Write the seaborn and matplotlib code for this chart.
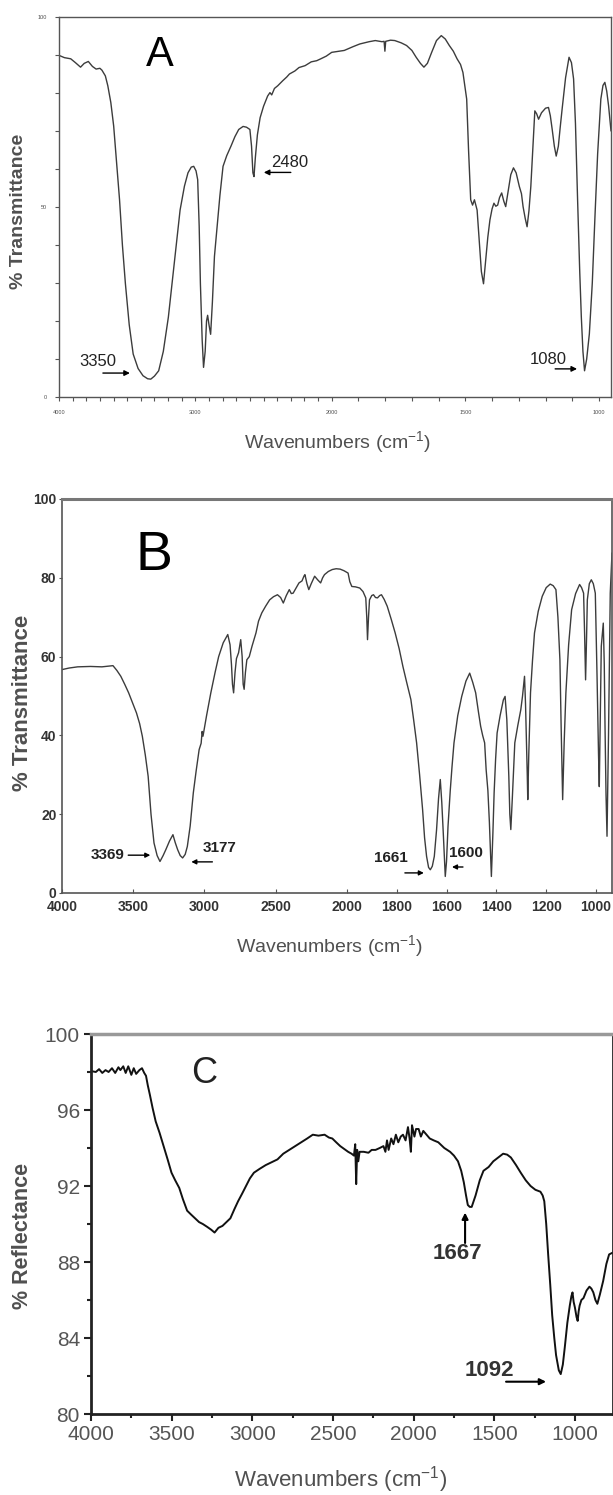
import numpy as np
import pandas as pd
import seaborn as sns
import matplotlib.pyplot as plt
from matplotlib.ticker import FixedLocator

# Spectrum A (% transmittance)
a_wn = [4000, 3960, 3914, 3880, 3842, 3815, 3785, 3755, 3728, 3700, 3685, 3660, 3642, 3620, 3599, 3578,
        3556, 3535, 3513, 3485, 3456, 3420, 3384, 3350, 3327, 3300, 3269, 3235, 3198, 3155, 3112, 3080,
        3054, 3030, 3012, 2995, 2983, 2972, 2963, 2950, 2940, 2928, 2918, 2910, 2900, 2888, 2875, 2860,
        2840, 2820, 2797, 2770, 2739, 2710, 2682, 2650, 2625, 2600, 2588, 2578, 2570, 2560, 2545, 2525,
        2500, 2470, 2453, 2440, 2420, 2396, 2360, 2330, 2310, 2270, 2240, 2195, 2150, 2110, 2080, 2040,
        2000, 1953, 1920, 1895, 1860, 1837, 1812, 1804, 1801, 1798, 1780, 1764, 1740, 1720, 1700, 1684,
        1668, 1655, 1642, 1626, 1608, 1590, 1575, 1560, 1545, 1531, 1518, 1509, 1500, 1495, 1488, 1480,
        1473, 1466, 1460, 1456, 1447, 1440, 1432, 1424, 1416, 1408, 1400, 1393, 1386, 1379, 1372, 1364,
        1356, 1349, 1340, 1330, 1320, 1310, 1298, 1290, 1284, 1276, 1269, 1262, 1255, 1247, 1240, 1233,
        1226, 1215, 1200, 1189, 1182, 1175, 1167, 1160, 1152, 1145, 1138, 1125, 1112, 1103, 1095, 1088,
        1080, 1072, 1066, 1060, 1054, 1046, 1036, 1025, 1015, 1005, 993, 985, 978, 971, 964, 955]
a_t = [89.9, 89.3, 89.0, 88.0, 86.8, 87.8, 88.3, 87.0, 86.3, 86.5, 86.0, 84.5, 81.9, 77.5, 71.3, 62.0,
       51.9, 40.0, 29.8, 19.0, 11.3, 7.5, 5.6, 4.8, 4.7, 5.5, 6.9, 12.0, 21.0, 35.0, 49.2, 55.5,
       59.0, 60.5, 60.7, 59.5, 57.2, 45.0, 29.8, 15.0, 7.8, 12.0, 20.0, 21.5, 19.0, 16.5, 25.0, 37.0,
       45.0, 53.0, 60.7, 63.5, 66.0, 68.5, 70.4, 71.2, 71.0, 70.4, 66.0, 59.0, 58.0, 63.0, 69.0, 73.5,
       76.5, 79.2, 80.1, 79.5, 81.2, 81.9, 83.2, 84.2, 85.0, 85.8, 86.7, 87.2, 88.2, 88.5, 89.0, 89.7,
       90.7, 91.2, 92.2, 92.9, 93.5, 93.8, 93.5, 93.6, 91.0, 93.6, 93.9, 93.8, 93.2, 92.5, 91.2, 89.4,
       87.8, 86.8, 87.8, 90.7, 93.8, 95.1, 94.2, 92.5, 91.0, 89.0, 87.5, 85.4, 81.0, 78.4, 65.0, 51.9,
       50.5, 51.9, 50.3, 49.2, 40.0, 33.0, 29.8, 36.0, 42.0, 46.6, 49.5, 51.0, 50.2, 50.5, 52.5, 53.7,
       51.5, 50.1, 54.0, 58.5, 60.3, 59.0, 55.4, 53.5, 50.1, 47.0, 44.8, 49.0, 55.4, 66.0, 75.3, 74.5,
       73.1, 74.8, 76.0, 76.2, 74.0, 70.4, 66.0, 63.4, 66.0, 71.0, 75.7, 84.0, 89.4, 88.0, 83.7, 72.0,
       51.9, 33.0, 21.0, 12.0, 6.9, 10.0, 16.6, 30.0, 47.5, 64.0, 78.4, 82.0, 82.8, 80.5, 76.6, 70.0]

# Spectrum B (% transmittance)
b_wn = [4000, 3950, 3890, 3800, 3720, 3670, 3642, 3615, 3587, 3560, 3532, 3505, 3477, 3455, 3436, 3415,
        3395, 3375, 3354, 3332, 3312, 3290, 3271, 3245, 3221, 3205, 3188, 3170, 3153, 3135, 3120, 3100,
        3078, 3058, 3037, 3023, 3016, 3010, 2985, 2955, 2925, 2900, 2868, 2836, 2820, 2810, 2803, 2795,
        2785, 2775, 2760, 2745, 2735, 2728, 2721, 2712, 2702, 2685, 2666, 2650, 2638, 2620, 2597, 2570,
        2542, 2515, 2487, 2465, 2446, 2425, 2404, 2390, 2377, 2355, 2336, 2315, 2300, 2294, 2280, 2267,
        2250, 2226, 2205, 2184, 2170, 2157, 2130, 2102, 2075, 2047, 2020, 1995, 1988, 1980, 1965, 1948,
        1935, 1924, 1920, 1917, 1913, 1909, 1900, 1893, 1885, 1877, 1868, 1861, 1850, 1838, 1822, 1806,
        1790, 1775, 1760, 1743, 1732, 1720, 1708, 1696, 1688, 1680, 1672, 1665, 1657, 1649, 1640, 1632,
        1625, 1619, 1613, 1608, 1605, 1600, 1594, 1585, 1578, 1570, 1555, 1539, 1522, 1507, 1495, 1483,
        1472, 1463, 1455, 1447, 1441, 1434, 1428, 1420, 1414, 1409, 1403, 1397, 1385, 1372, 1365, 1358,
        1353, 1350, 1346, 1342, 1336, 1326, 1314, 1302, 1295, 1287, 1283, 1279, 1276, 1274, 1270, 1263,
        1255, 1247, 1232, 1216, 1200, 1184, 1172, 1161, 1153, 1145, 1140, 1134, 1128, 1121, 1110, 1098,
        1082, 1066, 1058, 1050, 1046, 1042, 1038, 1035, 1027, 1019, 1011, 1003, 996, 990, 987, 983,
        979, 971, 967, 964, 960, 956, 950, 943, 936]
b_t = [56.7, 57.1, 57.4, 57.5, 57.4, 57.6, 57.7, 56.5, 55.0, 53.0, 50.8, 48.3, 45.7, 43.0, 39.8, 35.0,
       29.6, 20.0, 12.7, 9.5, 8.0, 9.5, 11.0, 13.2, 14.8, 12.8, 11.0, 9.5, 8.9, 9.8, 11.8, 17.0,
       25.4, 31.0, 36.4, 38.0, 41.0, 39.8, 45.0, 50.8, 56.0, 60.0, 63.5, 65.6, 63.0, 58.0, 53.0, 50.8,
       56.0, 59.5, 61.0, 64.3, 60.0, 53.0, 51.7, 56.0, 59.2, 60.0, 62.6, 64.5, 66.0, 69.0, 71.1, 72.8,
       74.4, 75.2, 75.7, 75.0, 73.6, 75.5, 77.0, 76.0, 76.1, 77.5, 78.7, 79.2, 80.5, 80.8, 78.5, 77.0,
       78.5, 80.4, 79.5, 78.7, 80.0, 80.8, 81.6, 82.1, 82.3, 82.2, 81.8, 81.2, 79.0, 77.8, 77.7, 77.4,
       76.5, 74.9, 70.0, 64.3, 70.0, 74.4, 75.5, 75.7, 75.0, 74.9, 75.5, 75.7, 74.5, 72.8, 69.5, 66.0,
       62.0, 57.5, 53.5, 49.1, 44.0, 38.1, 30.0, 21.2, 14.0, 9.3, 6.5, 5.9, 6.8, 9.3, 16.0, 24.0,
       28.8, 23.0, 15.2, 8.0, 4.2, 8.0, 16.9, 26.0, 32.0, 38.1, 45.0, 49.9, 53.8, 55.8, 53.5, 50.8,
       46.0, 42.3, 40.0, 38.1, 31.3, 26.0, 18.0, 4.2, 15.0, 25.4, 34.0, 40.6, 45.0, 49.0, 49.9, 44.0,
       35.0, 29.6, 20.0, 16.1, 24.0, 38.1, 42.5, 46.5, 50.0, 55.0, 48.0, 38.1, 30.0, 23.7, 35.0, 50.8,
       59.0, 66.0, 71.5, 75.3, 77.5, 78.4, 78.0, 77.0, 70.0, 59.2, 42.0, 23.7, 38.0, 50.8, 63.0, 71.9,
       76.0, 78.3, 77.5, 76.1, 66.0, 54.1, 65.0, 74.4, 78.5, 79.5, 78.5, 76.1, 55.0, 35.0, 27.0, 45.0,
       62.6, 68.5, 58.0, 42.3, 25.0, 14.4, 40.0, 76.1, 86.3]

# Spectrum C (% reflectance)
c_wn = [4000, 3970, 3950, 3930, 3910, 3891, 3870, 3850, 3830, 3818, 3800, 3785, 3769, 3750, 3735, 3720,
        3700, 3684, 3670, 3659, 3648, 3635, 3618, 3599, 3575, 3550, 3525, 3501, 3478, 3453, 3430, 3404,
        3380, 3355, 3330, 3307, 3280, 3255, 3234, 3210, 3185, 3160, 3136, 3110, 3088, 3063, 3039, 3015,
        2990, 2955, 2917, 2880, 2844, 2808, 2771, 2735, 2698, 2660, 2625, 2590, 2552, 2525, 2504, 2480,
        2455, 2430, 2406, 2385, 2370, 2362, 2356, 2350, 2343, 2335, 2309, 2280, 2260, 2236, 2210, 2187,
        2175, 2165, 2155, 2139, 2125, 2110, 2095, 2080, 2066, 2050, 2035, 2025, 2017, 2010, 1995, 1985,
        1969, 1955, 1940, 1920, 1900, 1875, 1847, 1810, 1774, 1750, 1725, 1705, 1689, 1675, 1664, 1652,
        1640, 1628, 1616, 1590, 1567, 1535, 1506, 1475, 1445, 1420, 1397, 1365, 1336, 1305, 1275, 1245,
        1214, 1200, 1190, 1178, 1166, 1153, 1141, 1128, 1117, 1100, 1088, 1075, 1063, 1047, 1032, 1022,
        1015, 1008, 1000, 990, 983, 977, 971, 960, 947, 928, 910, 898, 886, 873, 861, 845,
        825, 805, 788, 764]
c_r = [98.05, 98.0, 98.15, 97.95, 98.1, 98.0, 98.2, 97.95, 98.25, 98.1, 98.3, 97.95, 98.3, 97.85, 98.2, 97.9,
       98.1, 98.2, 97.95, 97.8, 97.3, 96.8, 96.1, 95.4, 94.8, 94.1, 93.4, 92.7, 92.3, 91.9, 91.3, 90.7,
       90.5, 90.3, 90.1, 90.0, 89.85, 89.7, 89.55, 89.8, 89.9, 90.1, 90.3, 90.8, 91.2, 91.6, 92.0, 92.4,
       92.7, 92.9, 93.1, 93.25, 93.4, 93.7, 93.9, 94.1, 94.3, 94.5, 94.7, 94.65, 94.7, 94.55, 94.5, 94.3,
       94.1, 93.95, 93.8, 93.7, 93.6, 94.2, 92.1, 93.9, 93.3, 93.8, 93.8, 93.75, 93.9, 93.9, 94.0, 94.1,
       93.8, 94.4, 93.9, 94.5, 94.2, 94.7, 94.3, 94.6, 94.7, 94.4, 95.1, 94.5, 93.8, 95.2, 94.6, 95.0,
       95.0, 94.6, 94.9, 94.7, 94.5, 94.4, 94.3, 94.0, 93.8, 93.6, 93.3, 92.8, 92.2, 91.5, 91.0, 90.9,
       90.9, 91.2, 91.5, 92.3, 92.8, 93.0, 93.3, 93.5, 93.7, 93.65, 93.5, 93.1, 92.7, 92.3, 92.0, 91.8,
       91.7, 91.5, 91.2, 90.0, 88.4, 86.8, 85.2, 84.0, 83.1, 82.3, 82.1, 82.6, 83.5, 84.8, 85.7, 86.2,
       86.4, 85.9, 85.6, 85.1, 84.9, 85.4, 85.7, 86.0, 86.1, 86.5, 86.7, 86.6, 86.4, 86.0, 85.8, 86.3,
       87.0, 87.9, 88.4, 88.5]

a_ticks = [4000, 3000, 2000, 1500, 1000]
b_ticks = [4000, 3500, 3000, 2500, 2000, 1800, 1600, 1400, 1200, 1000]
c_ticks = [4000, 3500, 3000, 2500, 2000, 1500, 1000]

sns.set_style("ticks")
plt.rcParams['font.family'] = ['Liberation Sans', 'DejaVu Sans']
plt.rcParams['mathtext.fontset'] = 'custom'
plt.rcParams['mathtext.rm'] = 'Liberation Sans'
narrow = ['Liberation Sans Narrow', 'Liberation Sans', 'DejaVu Sans']
grey = '#505050'
W, H = 613, 1495


def box(l, r, t, b):
    # pixel box -> figure fraction
    return [l / W, 1 - b / H, (r - l) / W, (b - t) / H]


def split_scale(ax, fac):
    # old IR charts stretch the region below 2000 cm-1
    fwd = lambda x: np.where(x >= 2000, x, 2000 - (2000 - x) * fac)
    inv = lambda y: np.where(y >= 2000, y, 2000 - (2000 - y) / fac)
    ax.set_xscale('function', functions=(fwd, inv))


def arrow(ax, tail, head, lw=1.0, ms=8):
    ax.annotate('', xy=head, xytext=tail,
                arrowprops=dict(arrowstyle='-|>', lw=lw, color='k', mutation_scale=ms,
                                shrinkA=0, shrinkB=0))


xlab = 'Wavenumbers (cm$^{\\mathrm{-1}}$)'

fig = plt.figure(figsize=(W / 100, H / 100), dpi=100)

# ---- A ----
axA = fig.add_axes(box(59, 611, 17, 397))
sns.lineplot(data=pd.DataFrame({'wn': a_wn, 't': a_t}), x='wn', y='t', ax=axA,
             color='#3c3c3c', lw=1.0, estimator=None, sort=False)
split_scale(axA, 1.96)
axA.set_xlim(4000, 955)
axA.set_ylim(0, 100)
axA.xaxis.set_major_locator(FixedLocator(a_ticks))
axA.xaxis.set_minor_locator(FixedLocator(list(range(3900, 1000, -100))))
axA.set_yticks([0, 50, 100])
axA.yaxis.set_minor_locator(FixedLocator(list(range(10, 100, 10))))
axA.tick_params(which='both', direction='out', length=3, width=0.8, color='#555', labelsize=4,
                labelcolor=grey, pad=6)
axA.set_xlabel(xlab, fontsize=14, color=grey, va='center')
axA.xaxis.set_label_coords(0.504, -0.121)
axA.set_ylabel('% Transmittance', fontsize=14, fontweight='bold', color=grey, va='center')
axA.yaxis.set_label_coords(-0.074, 0.488)
for s in axA.spines.values():
    s.set_color('#555')
    s.set_linewidth(1.0)
axA.text(0.183, 0.90, 'A', transform=axA.transAxes, fontsize=30, ha='center', va='center', color='k')
axA.text(3714, 9.4, '3350', fontsize=12, ha='center', va='center', color='#222')
arrow(axA, (3678, 6.3), (3480, 6.3))
axA.text(2308, 61.7, '2480', fontsize=12, ha='center', va='center', color='#222')
arrow(axA, (2300, 59.1), (2498, 59.1))
axA.text(1188, 9.8, '1080', fontsize=12, ha='center', va='center', color='#222')
arrow(axA, (1164, 7.4), (1082, 7.4))

# ---- B ----
axB = fig.add_axes(box(62, 612, 499, 893))
sns.lineplot(data=pd.DataFrame({'wn': b_wn, 't': b_t}), x='wn', y='t', ax=axB,
             color='#3c3c3c', lw=1.0, estimator=None, sort=False)
split_scale(axB, 1.75)
axB.set_xlim(4000, 936)
axB.set_ylim(0, 100)
axB.xaxis.set_major_locator(FixedLocator(b_ticks))
axB.xaxis.set_minor_locator(FixedLocator([]))
axB.set_yticks(range(0, 101, 20))
axB.tick_params(axis='x', direction='in', length=3, width=0.8, color='#555', pad=5)
axB.tick_params(axis='y', direction='out', length=2, width=0.8, color='#555', pad=2)
for lab in axB.get_xticklabels() + axB.get_yticklabels():
    lab.set_family(narrow)
    lab.set_fontweight('bold')
    lab.set_fontsize(10)
    lab.set_color('#333')
axB.set_xlabel(xlab, fontsize=14, color=grey, va='center')
axB.xaxis.set_label_coords(0.487, -0.137)
axB.set_ylabel('% Transmittance', fontsize=16, fontweight='bold', color=grey, va='center')
axB.yaxis.set_label_coords(-0.071, 0.482)
for s in axB.spines.values():
    s.set_color('#555')
    s.set_linewidth(1.2)
axB.spines['top'].set_linewidth(2.2)
axB.spines['top'].set_color('#777')
axB.text(0.167, 0.855, 'B', transform=axB.transAxes, fontsize=40, family=narrow,
         ha='center', va='center', color='k')
bkw = dict(fontsize=11, family=narrow, fontweight='bold', ha='center', va='center', color='#222')
axB.text(3680, 9.6, '3369', **bkw)
arrow(axB, (3535, 9.6), (3380, 9.6), ms=7)
axB.text(2894, 11.4, '3177', **bkw)
arrow(axB, (2944, 7.9), (3092, 7.9), ms=7)
axB.text(1823, 8.9, '1661', **bkw)
arrow(axB, (1767, 5.1), (1691, 5.1), ms=7)
axB.text(1522, 10.2, '1600', **bkw)
arrow(axB, (1534, 6.6), (1578, 6.6), ms=7)

# ---- C ----
axC = fig.add_axes(box(91, 613, 1034, 1414))
sns.lineplot(data=pd.DataFrame({'wn': c_wn, 'r': c_r}), x='wn', y='r', ax=axC,
             color='#111', lw=1.4, estimator=None, sort=False)
axC.set_xlim(4000, 764)
axC.set_ylim(80, 100)
axC.xaxis.set_major_locator(FixedLocator(c_ticks))
axC.xaxis.set_minor_locator(FixedLocator([3750, 3250, 2750, 2250, 1750, 1250, 750]))
axC.set_yticks(range(80, 101, 4))
axC.yaxis.set_minor_locator(FixedLocator(range(82, 100, 4)))
axC.tick_params(which='major', direction='out', length=5, width=1.5, color='#222',
                labelsize=15, labelcolor='#555', pad=3)
axC.tick_params(which='minor', direction='out', length=3, width=1.5, color='#222')
axC.set_xlabel(xlab, fontsize=16, color=grey, va='center')
axC.xaxis.set_label_coords(0.479, -0.172)
axC.set_ylabel('% Reflectance', fontsize=15.5, fontweight='bold', color=grey, va='center')
axC.yaxis.set_label_coords(-0.132, 0.468)
for s in axC.spines.values():
    s.set_color('#222')
    s.set_linewidth(2.0)
axC.spines['top'].set_color('#999')
axC.spines['top'].set_linewidth(2.5)
axC.text(0.216, 0.895, 'C', transform=axC.transAxes, fontsize=26, ha='center', va='center', color='#222')
axC.text(1731, 88.47, '1667', fontsize=16, fontweight='bold', ha='center', va='center', color='#333')
arrow(axC, (1681, 89.0), (1681, 90.6), lw=1.5, ms=9)
axC.text(1533, 82.3, '1092', fontsize=16, fontweight='bold', ha='center', va='center', color='#333')
arrow(axC, (1427, 81.7), (1179, 81.7), lw=1.5, ms=9)

fig.savefig('out.png', dpi=100)
